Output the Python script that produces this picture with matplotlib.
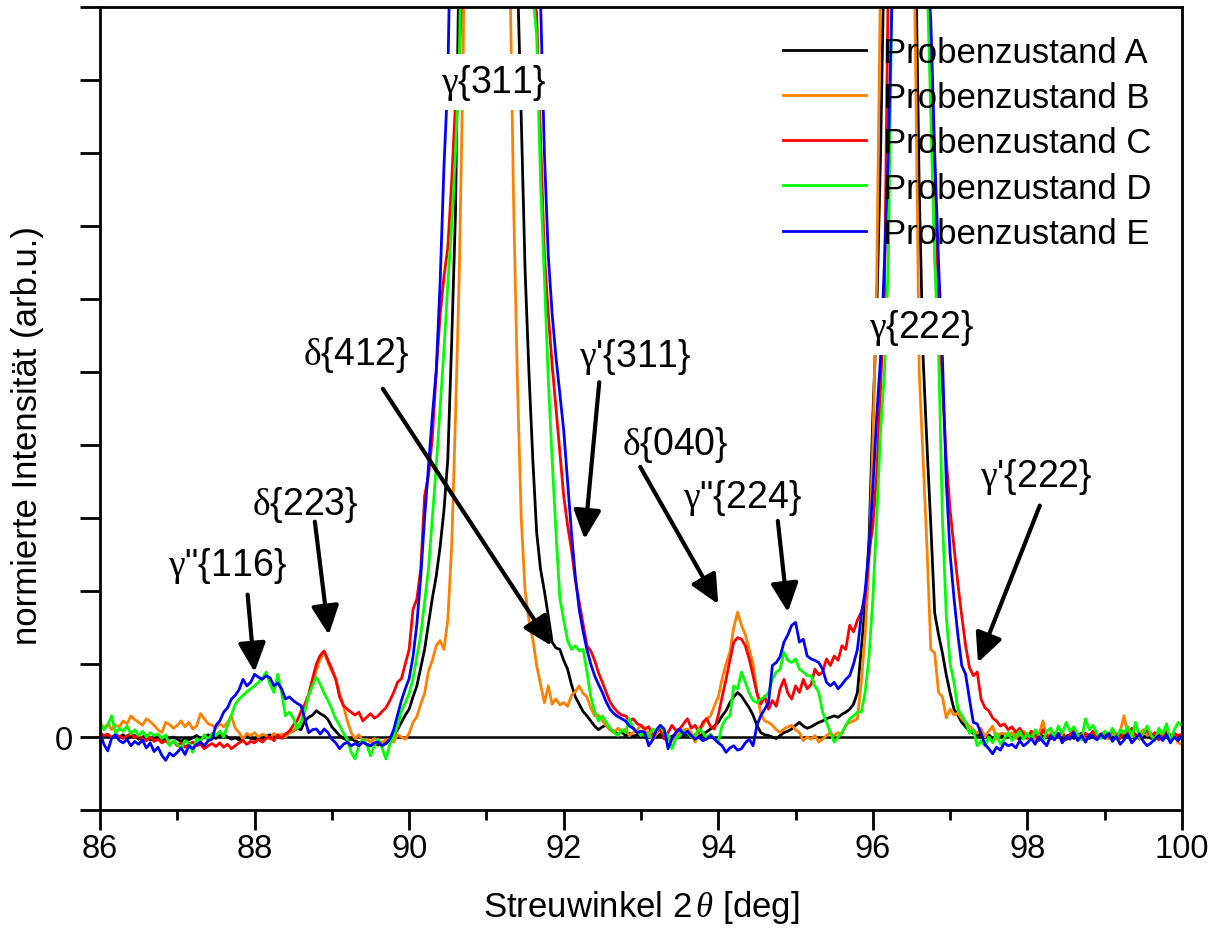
import numpy as np
import matplotlib
matplotlib.use("Agg")
import matplotlib.pyplot as plt
from matplotlib.ticker import FixedLocator, MultipleLocator

plt.rcParams['font.family'] = ['Liberation Sans', 'DejaVu Sans']
plt.rcParams['mathtext.fontset'] = 'custom'
plt.rcParams['mathtext.rm'] = 'Liberation Serif'
plt.rcParams['mathtext.it'] = 'Liberation Serif:italic'

# ---------------- data ----------------
two_theta = np.linspace(86.0, 100.0, 281)   # 0.05 deg sampling

intensity_A = [
    0.05, 0.02, 0.03, -0.01, 0.02, 0.00, 0.03, -0.02, 0.01, 0.02, -0.03, 0.00, 0.02, -0.04, -0.02, 0.01, -0.03, -0.05, -0.02, 0.00,
    -0.03, -0.06, -0.02, -0.04, -0.01, 0.02, -0.02, 0.00, 0.03, 0.00, -0.02, 0.02, 0.04, 0.00, -0.03, -0.01, -0.04, -0.02, 0.01, -0.02,
    -0.03, 0.00, -0.02, 0.01, 0.03, 0.00, 0.02, 0.01, 0.04, 0.06, 0.08, 0.12, 0.10, 0.22, 0.27, 0.30, 0.36, 0.32, 0.29, 0.24,
    0.14, 0.08, 0.02, -0.02, -0.04, -0.03, -0.05, -0.08, -0.06, -0.10, -0.12, -0.09, -0.11, -0.07, -0.09, -0.04, 0.02, 0.10, 0.20, 0.30,
    0.38, 0.55, 0.70, 0.95, 1.20, 1.55, 1.90, 2.20, 2.60, 3.10, 3.80, 5.40, 7.20, 11.0, 20, 35, 50, 80, 100, 110,
    110, 100, 80, 55, 35, 22, 15, 12.5, 10.5, 8.5, 6.4, 5.0, 3.8, 2.8, 2.3, 2.0, 1.66, 1.3, 1.22, 1.2,
    1.05, 0.93, 0.72, 0.55, 0.45, 0.35, 0.29, 0.22, 0.15, 0.10, 0.14, 0.16, 0.10, 0.08, 0.04, 0.07, 0.02, 0.05, 0.01, 0.03,
    0.02, 0.05, -0.01, 0.03, 0.00, 0.04, -0.02, -0.03, 0.01, 0.03, 0.06, 0.02, 0.04, 0.00, 0.03, 0.01, 0.04, 0.07, 0.11, 0.15,
    0.20, 0.29, 0.36, 0.47, 0.55, 0.61, 0.56, 0.48, 0.40, 0.30, 0.16, 0.06, 0.03, 0.02, 0.00, -0.02, 0.02, 0.06, 0.08, 0.11,
    0.16, 0.20, 0.15, 0.12, 0.14, 0.17, 0.20, 0.22, 0.25, 0.27, 0.29, 0.27, 0.31, 0.34, 0.38, 0.45, 0.61, 1.2, 1.8, 2.7,
    4.4, 5.8, 8.0, 11, 18, 30, 50, 60, 60, 50, 30, 11, 7.5, 5.2, 4.0, 2.9, 1.7, 1.4, 1.15, 0.85,
    0.60, 0.38, 0.30, 0.20, 0.14, 0.08, 0.05, 0.02, 0.04, 0.00, 0.03, -0.02, 0.01, 0.04, -0.01, 0.02, 0.05, 0.00, -0.03, 0.02,
    0.00, 0.03, -0.02, 0.05, 0.01, -0.01, 0.04, 0.00, 0.02, -0.03, 0.01, 0.03, -0.02, 0.02, 0.05, 0.00, -0.02, 0.03, 0.01, -0.01,
    0.02, 0.04, 0.00, -0.02, 0.03, 0.01, 0.05, -0.01, 0.02, 0.04, 0.00, 0.03, -0.02, 0.01, 0.04, 0.02, -0.01, 0.03, 0.00, 0.02,
    0.01]

intensity_B = [
    0.20, 0.12, 0.18, 0.10, 0.16, 0.14, 0.22, 0.18, 0.29, 0.24, 0.20, 0.16, 0.25, 0.21, 0.16, 0.10, 0.06, 0.20, 0.17, 0.12,
    0.16, 0.22, 0.14, 0.20, 0.11, 0.15, 0.32, 0.25, 0.18, 0.16, 0.12, 0.18, 0.14, 0.20, 0.29, 0.12, 0.06, -0.03, 0.05, 0.02,
    0.06, 0.00, 0.04, 0.02, -0.03, 0.05, 0.01, 0.04, 0.00, 0.06, 0.08, 0.14, 0.20, 0.38, 0.58, 0.75, 0.92, 1.07, 1.16, 1.02,
    0.90, 0.80, 0.60, 0.43, 0.22, 0.06, -0.02, 0.03, -0.05, -0.03, -0.07, -0.02, -0.05, -0.08, -0.04, -0.03, -0.07, 0.03, 0.00, -0.03,
    0.05, 0.20, 0.28, 0.45, 0.60, 0.90, 1.05, 1.25, 1.32, 1.20, 1.60, 2.6, 4.4, 6.4, 9.4, 15, 30, 60, 90, 110,
    115, 105, 80, 50, 30, 18, 10.8, 7.4, 4.9, 3.0, 2.0, 1.6, 1.34, 0.98, 0.72, 0.47, 0.70, 0.45, 0.52, 0.44,
    0.47, 0.42, 0.57, 0.62, 0.70, 0.60, 0.55, 0.40, 0.29, 0.30, 0.22, 0.16, 0.10, 0.06, 0.12, 0.08, 0.11, 0.02, 0.06, 0.10,
    0.16, 0.08, 0.06, -0.03, 0.04, 0.11, 0.05, 0.02, -0.05, 0.00, 0.06, 0.10, 0.11, 0.06, -0.07, 0.12, 0.16, 0.25, 0.29, 0.43,
    0.55, 0.80, 1.00, 1.16, 1.50, 1.71, 1.53, 1.40, 1.20, 1.00, 0.61, 0.32, 0.22, 0.20, 0.16, 0.10, 0.06, 0.11, 0.14, 0.16,
    0.10, 0.06, -0.05, 0.00, -0.03, 0.02, -0.07, -0.03, 0.02, 0.06, 0.02, 0.06, 0.04, 0.16, 0.20, 0.22, 0.25, 0.75, 1.4, 2.4,
    4.0, 6.3, 10.5, 20, 40, 60, 60, 45, 25, 14, 13, 9.5, 5.0, 3.8, 2.6, 1.2, 1.15, 0.61, 0.55, 0.26,
    0.38, 0.30, 0.33, 0.25, 0.20, 0.15, 0.10, 0.05, 0.12, 0.00, 0.08, 0.15, -0.03, 0.05, 0.05, 0.02, 0.06, -0.02, 0.04, 0.08,
    0.02, 0.06, -0.04, 0.03, 0.22, 0.00, 0.05, -0.02, 0.04, 0.08, -0.03, 0.02, 0.06, 0.00, 0.03, -0.04, 0.02, 0.07, 0.01, 0.04,
    0.00, -0.03, 0.05, 0.02, 0.08, 0.29, 0.03, 0.06, -0.02, 0.04, 0.10, 0.02, 0.05, -0.03, 0.06, 0.02, 0.08, -0.02, 0.03, -0.08,
    -0.10]

intensity_C = [
    0.05, 0.02, 0.04, -0.01, 0.03, 0.01, -0.02, 0.02, 0.04, -0.01, 0.02, -0.03, -0.05, 0.00, -0.06, -0.03, -0.08, -0.05, -0.10, -0.06,
    -0.12, -0.08, -0.14, -0.10, -0.07, -0.12, -0.10, -0.16, -0.12, -0.09, -0.13, -0.08, -0.14, -0.10, -0.16, -0.12, -0.08, -0.05, -0.10, -0.06,
    -0.08, -0.03, -0.07, -0.02, 0.00, -0.05, 0.03, -0.02, 0.04, 0.08, 0.16, 0.22, 0.35, 0.45, 0.58, 0.80, 1.00, 1.12, 1.18, 1.05,
    0.93, 0.79, 0.55, 0.43, 0.38, 0.34, 0.30, 0.34, 0.22, 0.27, 0.32, 0.26, 0.29, 0.35, 0.40, 0.50, 0.61, 0.75, 0.80, 1.00,
    1.2, 1.75, 1.89, 2.3, 3.3, 3.58, 4.1, 5.0, 5.77, 6.3, 6.7, 7.6, 8.7, 9.3, 10.8, 18, 40, 70, 95, 110,
    115, 110, 95, 80, 60, 45, 30, 22, 16, 13, 11.5, 10.8, 10.3, 9.9, 8.2, 6.6, 5.8, 5.1, 4.5, 3.9,
    3.3, 2.9, 2.57, 2.15, 1.85, 1.55, 1.25, 1.18, 1.05, 0.88, 0.75, 0.61, 0.48, 0.40, 0.34, 0.30, 0.29, 0.22, 0.25, 0.18,
    0.16, 0.11, 0.14, 0.02, 0.08, 0.11, -0.03, 0.06, 0.16, 0.09, 0.11, 0.18, 0.25, 0.12, 0.16, 0.06, 0.20, 0.25, 0.14, 0.11,
    0.30, 0.55, 0.79, 1.05, 1.30, 1.36, 1.34, 1.25, 1.07, 0.84, 0.60, 0.45, 0.56, 0.38, 0.50, 0.42, 0.66, 0.79, 0.60, 0.52,
    0.70, 0.61, 0.79, 0.66, 0.72, 0.93, 0.85, 0.89, 1.07, 0.98, 1.11, 1.05, 1.25, 1.20, 1.53, 1.44, 1.60, 1.71, 1.89, 2.5,
    2.9, 3.6, 4.8, 6.0, 10.5, 20, 40, 60, 60, 50, 35, 22, 15, 11.5, 10.5, 9.6, 7.8, 6.0, 4.8, 3.8,
    3.1, 2.6, 2.1, 1.66, 1.25, 0.95, 0.84, 0.89, 0.52, 0.40, 0.36, 0.26, 0.22, 0.15, 0.18, 0.10, 0.14, 0.06, 0.12, 0.04,
    -0.02, 0.08, 0.03, -0.05, 0.10, 0.02, -0.03, 0.05, 0.00, 0.07, -0.04, 0.03, 0.09, 0.01, -0.02, 0.05, 0.02, 0.08, -0.01, 0.04,
    0.06, 0.00, 0.10, 0.03, -0.02, 0.08, 0.04, 0.12, 0.02, -0.03, 0.05, 0.09, 0.01, 0.06, -0.04, 0.03, 0.07, 0.00, 0.05, 0.02,
    0.04]

intensity_D = [
    0.20, 0.10, 0.16, 0.29, 0.05, 0.12, 0.08, 0.15, 0.04, 0.10, 0.02, 0.08, 0.00, 0.06, 0.02, 0.04, -0.02, 0.03, -0.12, -0.05,
    -0.10, -0.16, -0.05, -0.08, -0.21, -0.02, -0.06, 0.03, -0.04, 0.05, 0.02, 0.08, 0.00, 0.16, 0.30, 0.45, 0.52, 0.57, 0.62, 0.66,
    0.70, 0.75, 0.80, 0.89, 0.72, 0.61, 0.86, 0.60, 0.29, 0.34, 0.26, 0.11, 0.20, 0.35, 0.57, 0.70, 0.82, 0.72, 0.60, 0.50,
    0.38, 0.25, 0.16, 0.05, -0.03, -0.21, -0.30, -0.12, -0.03, -0.10, -0.26, -0.12, -0.03, -0.15, -0.30, -0.10, 0.00, 0.15, 0.35, 0.47,
    0.60, 0.80, 1.10, 1.40, 1.85, 2.30, 3.0, 3.7, 4.5, 5.3, 6.2, 7.0, 8.0, 9.3, 13, 25, 45, 75, 100, 110,
    115, 110, 95, 75, 55, 38, 25, 18, 14, 12.5, 11.5, 10.8, 10.2, 9.6, 7.6, 6.3, 4.9, 3.8, 2.8, 1.9,
    1.60, 1.32, 1.20, 1.25, 1.18, 1.20, 0.90, 0.55, 0.35, 0.22, 0.29, 0.20, 0.12, 0.06, 0.02, 0.10, 0.06, 0.25, 0.11, 0.08,
    0.02, 0.06, 0.00, 0.11, 0.08, 0.16, 0.06, 0.02, -0.16, -0.02, 0.02, 0.08, 0.06, 0.00, 0.02, 0.11, 0.06, -0.01, 0.04, -0.03,
    -0.07, 0.16, 0.25, 0.29, 0.70, 0.66, 0.89, 0.75, 0.60, 0.50, 0.47, 0.52, 0.55, 0.61, 0.79, 0.89, 0.93, 1.16, 1.05, 1.02,
    1.07, 0.93, 0.89, 0.84, 0.84, 0.70, 0.61, 0.34, 0.20, 0.06, -0.07, 0.00, 0.06, 0.16, 0.25, 0.29, 0.34, 0.34, 0.61, 1.10,
    1.9, 3.0, 4.2, 5.0, 6.5, 10.5, 25, 50, 60, 60, 45, 25, 15, 11.5, 10.5, 8.5, 6.5, 5.3, 3.0, 1.66,
    1.0, 0.75, 0.38, 0.30, 0.20, 0.05, 0.10, -0.12, -0.05, -0.12, 0.00, -0.08, 0.05, -0.10, -0.02, 0.06, -0.05, 0.02, 0.08, -0.03,
    0.05, -0.04, 0.10, 0.02, -0.06, 0.08, 0.12, 0.00, 0.15, 0.04, 0.20, 0.08, 0.14, 0.03, -0.04, 0.25, 0.10, 0.16, 0.04, -0.02,
    0.08, 0.02, 0.12, -0.03, 0.10, 0.05, 0.14, 0.00, 0.20, -0.02, 0.06, 0.15, 0.02, -0.05, 0.12, 0.04, 0.18, -0.06, 0.10, 0.20,
    0.15]

intensity_E = [
    0.06, -0.10, -0.19, -0.02, 0.03, -0.05, -0.08, -0.03, -0.12, -0.06, -0.10, -0.04, -0.15, -0.08, -0.20, -0.14, -0.25, -0.32, -0.22, -0.26,
    -0.21, -0.15, -0.24, -0.12, -0.16, -0.10, -0.07, -0.12, -0.05, -0.03, 0.16, 0.22, 0.34, 0.40, 0.52, 0.57, 0.65, 0.79, 0.70, 0.75,
    0.86, 0.82, 0.79, 0.84, 0.81, 0.70, 0.74, 0.66, 0.52, 0.55, 0.50, 0.46, 0.43, 0.25, 0.06, 0.10, 0.11, 0.04, 0.11, 0.06,
    -0.03, -0.08, -0.16, -0.10, -0.07, -0.12, -0.09, -0.12, -0.07, -0.10, -0.12, -0.08, -0.07, -0.12, -0.09, -0.03, 0.10, 0.30, 0.50, 0.66,
    0.80, 1.10, 1.55, 2.2, 3.0, 3.7, 4.4, 5.0, 6.2, 7.8, 9.0, 12, 25, 45, 70, 90, 105, 115, 120, 120,
    120, 115, 105, 90, 70, 50, 35, 25, 18, 14, 12, 11.0, 10.6, 10.3, 10.1, 8.0, 6.6, 5.8, 5.2, 4.7,
    4.2, 3.5, 2.8, 2.2, 1.75, 1.45, 1.20, 1.0, 0.84, 0.72, 0.61, 0.48, 0.38, 0.32, 0.28, 0.25, 0.22, 0.15, 0.12, 0.06,
    0.08, 0.06, -0.12, -0.04, 0.10, 0.16, 0.11, -0.16, -0.02, 0.06, 0.11, 0.04, 0.08, 0.02, -0.03, 0.00, -0.05, -0.03, 0.02, -0.03,
    -0.08, -0.12, -0.21, -0.15, -0.12, -0.18, -0.16, -0.08, -0.03, -0.12, 0.16, 0.29, 0.38, 0.47, 0.98, 1.02, 1.10, 1.30, 1.40, 1.53,
    1.57, 1.30, 1.34, 1.11, 1.07, 1.05, 1.02, 0.93, 0.75, 0.70, 0.75, 0.66, 0.72, 0.79, 0.84, 1.00, 1.20, 1.66, 2.0, 2.57,
    3.4, 4.4, 5.2, 6.5, 8.0, 10.2, 25, 50, 60, 60, 45, 25, 16, 12, 10.8, 9.8, 8.0, 6.5, 5.2, 3.5,
    2.5, 1.9, 1.4, 0.98, 0.86, 0.52, 0.20, 0.18, 0.05, -0.10, -0.16, -0.23, -0.14, -0.18, -0.08, -0.12, -0.10, -0.15, -0.05, -0.12,
    -0.08, -0.02, -0.10, 0.00, -0.06, -0.12, 0.02, -0.04, 0.05, -0.08, 0.00, -0.03, 0.06, -0.05, 0.02, -0.07, 0.03, 0.00, -0.04, 0.04,
    -0.02, 0.05, -0.06, 0.01, -0.10, -0.04, 0.03, -0.08, -0.02, 0.04, -0.06, -0.12, -0.08, -0.03, 0.02, -0.05, 0.03, -0.08, 0.00, -0.05,
    0.02]

series_names = ['Probenzustand A', 'Probenzustand B', 'Probenzustand C',
                'Probenzustand D', 'Probenzustand E']
series_colors = ['#000000', '#FF8000', '#FF0000', '#00FF00', '#0000FF']

peak_labels = [r'$\mathrm{\gamma}$"{116}', r'$\mathrm{\delta}${223}', r'$\mathrm{\delta}${412}',
               r"$\mathrm{\gamma}$'{311}", r'$\mathrm{\delta}${040}', r'$\mathrm{\gamma}$"{224}',
               r"$\mathrm{\gamma}$'{222}"]
peak_label_xy = [(87.65, 2.36), (88.66, 3.19), (89.32, 5.25), (92.92, 5.22),
                 (93.44, 4.01), (94.31, 3.29), (98.12, 3.58)]
arrow_tail = [(87.91, 1.95), (88.78, 2.95), (89.66, 4.77), (92.46, 4.86),
              (92.99, 3.70), (94.77, 2.96), (98.16, 3.17)]
arrow_head = [(88.00, 0.89), (88.96, 1.40), (91.84, 1.25), (92.27, 2.71),
              (94.00, 1.82), (94.90, 1.71), (97.36, 1.02)]

main_labels = [r'$\mathrm{\gamma}${311}', r'$\mathrm{\gamma}${222}']
main_label_xy = [(91.09, 8.97), (96.63, 5.62)]

# ---------------- figure ----------------
W, H = 1214, 929
fig = plt.figure(figsize=(W / 100, H / 100), dpi=100)
ax = fig.add_axes([100 / W, 1 - 811 / H, 1082 / W, 803 / H])

ax.axhline(0, color='black', lw=1.8, zorder=1)

all_series = [intensity_A, intensity_B, intensity_C, intensity_D, intensity_E]
handles = [None] * 5
for idx in [0, 1, 2, 4, 3]:
    (ln,) = ax.plot(two_theta, all_series[idx], color=series_colors[idx],
                    lw=2.0, label=series_names[idx], zorder=2 + idx * 0.1)
    handles[idx] = ln

ax.set_xlim(86, 100)
ax.set_ylim(-1, 10)

# ticks
ax.xaxis.set_major_locator(MultipleLocator(2))
ax.xaxis.set_minor_locator(MultipleLocator(1))
yt = list(range(-1, 11))
ax.yaxis.set_major_locator(FixedLocator(yt))
ax.set_yticklabels(['0' if v == 0 else '' for v in yt])
ax.tick_params(axis='both', which='major', direction='out', length=14.5,
               width=2, labelsize=23.5)
ax.tick_params(axis='x', which='minor', direction='out', length=7.5, width=2)
ax.tick_params(axis='x', which='major', pad=2)
ax.tick_params(axis='y', which='major', pad=5)
for sp in ax.spines.values():
    sp.set_linewidth(2)

ax.set_xlabel(r'Streuwinkel 2$\,\mathit{\theta}$ [deg]', fontsize=25, labelpad=17)
ax.set_ylabel('normierte Intensität (arb.u.)', fontsize=25)
ax.yaxis.set_label_coords(-0.052, 0.467)

# legend
leg = ax.legend(handles=handles, loc='upper right', frameon=False, fontsize=25,
                handlelength=2.4, handletextpad=0.5, labelspacing=0.35,
                borderaxespad=0.0, bbox_to_anchor=(0.985, 0.981))

# labels with white background over main peaks
for lab, (x, y) in zip(main_labels, main_label_xy):
    ax.text(x, y, lab, ha='center', va='center', fontsize=27, zorder=6,
            bbox=dict(facecolor='white', edgecolor='none', boxstyle='square,pad=0.22'))

# arrows and peak labels
for lab, (x, y), t, h in zip(peak_labels, peak_label_xy, arrow_tail, arrow_head):
    ax.text(x, y, lab, ha='center', va='center', fontsize=27, zorder=7)
    ax.annotate('', xy=h, xytext=t, zorder=7,
                arrowprops=dict(arrowstyle='-|>,head_length=0.8,head_width=0.38',
                                mutation_scale=22, lw=3, color='black',
                                shrinkA=0, shrinkB=0))

fig.savefig('out.png', dpi=100)
